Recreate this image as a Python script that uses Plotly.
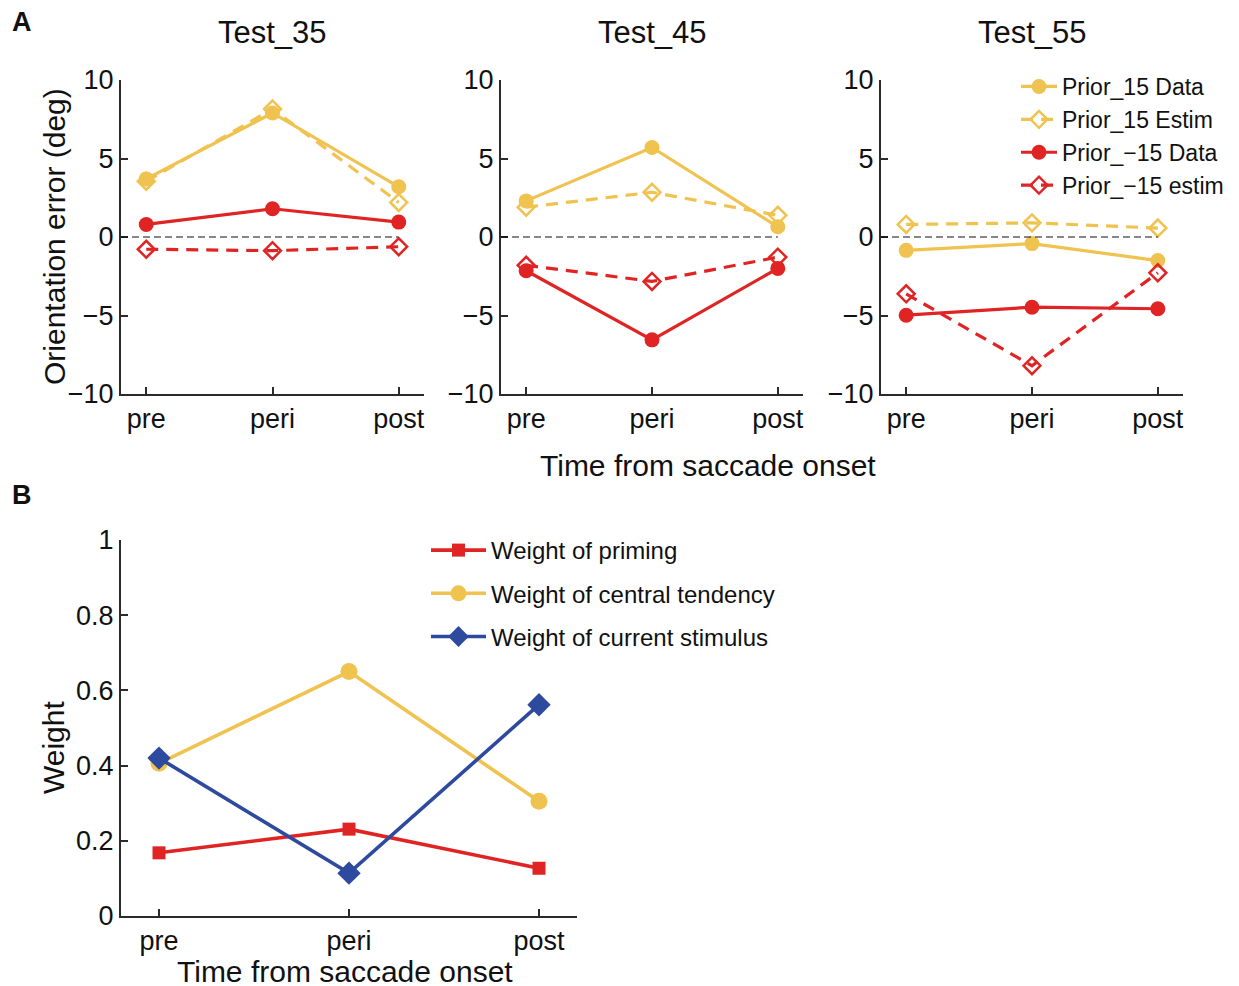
import plotly.graph_objects as go

# ---------------- data ----------------
categories = ["pre", "peri", "post"]
panel_titles = ["Test_35", "Test_45", "Test_55"]

p15_data = {
    "Test_35": [3.7, 7.9, 3.2],
    "Test_45": [2.3, 5.7, 0.65],
    "Test_55": [-0.85, -0.42, -1.5],
}
p15_estim = {
    "Test_35": [3.55, 8.15, 2.2],
    "Test_45": [1.9, 2.85, 1.38],
    "Test_55": [0.8, 0.9, 0.57],
}
m15_data = {
    "Test_35": [0.8, 1.8, 0.95],
    "Test_45": [-2.15, -6.55, -2.0],
    "Test_55": [-4.98, -4.47, -4.57],
}
m15_estim = {
    "Test_35": [-0.78, -0.87, -0.62],
    "Test_45": [-1.8, -2.83, -1.28],
    "Test_55": [-3.62, -8.2, -2.28],
}

weight_priming = [0.168, 0.231, 0.127]
weight_central = [0.406, 0.650, 0.305]
weight_current = [0.420, 0.114, 0.562]

a_yticks = [-10, -5, 0, 5, 10]
b_yticks = [0, 0.2, 0.4, 0.6, 0.8, 1]
b_yticktext = ["0", "0.2", "0.4", "0.6", "0.8", "1"]

# ---------------- styles ----------------
YEL = "#F0C24F"
RED = "#E02424"
BLUE = "#2D4A9E"
AX = "#2b2b2b"
TXT = "#111111"
FONT = "Liberation Sans, Arial, Helvetica, sans-serif"

W, H = 1239, 986
OFF = 8  # page body margin of the html page


def px_x(p):
    return (p - OFF) / W


def px_y(p):
    return 1 - (p - OFF) / H


a_xdom = [[121, 424], [501, 803], [881, 1183]]
a_ydom = [px_y(394), px_y(80)]
b_xdom = [px_x(121), px_x(577)]
b_ydom = [px_y(916), px_y(540)]

fig = go.Figure()

series = [
    ("Prior_15 Data", p15_data, YEL, "solid", "circle"),
    ("Prior_15 Estim", p15_estim, YEL, "12px,8px", "diamond-open"),
    ("Prior_\u221215 Data", m15_data, RED, "solid", "circle"),
    ("Prior_\u221215 estim", m15_estim, RED, "12px,8px", "diamond-open"),
]

for i, t in enumerate(panel_titles):
    xa = "x" if i == 0 else f"x{i+1}"
    ya = "y" if i == 0 else f"y{i+1}"
    fig.add_shape(type="line", xref=xa, yref=ya, x0=-0.2, x1=2, y0=0, y1=0,
                  line=dict(color="#111111", width=1.2, dash="7px,4px"))
    for name, d, col, dash, sym in series:
        is_open = "open" in sym
        fig.add_trace(go.Scatter(
            x=categories, y=d[t], xaxis=xa, yaxis=ya, name=name,
            mode="lines+markers",
            line=dict(color=col, width=3.2, dash=dash),
            marker=dict(symbol=sym, size=13 if is_open else 15, color=col,
                        line=dict(color=col, width=2.5 if is_open else 0)),
            showlegend=(i == 0), legend="legend",
        ))

b_series = [
    ("Weight of priming", weight_priming, RED, "square", 13),
    ("Weight of central tendency", weight_central, YEL, "circle", 17),
    ("Weight of current stimulus", weight_current, BLUE, "diamond", 18),
]
for k, (name, vals, col, sym, sz) in enumerate(b_series):
    fig.add_trace(go.Scatter(
        x=categories, y=vals, xaxis="x4", yaxis="y4", name=name,
        mode="lines+markers",
        line=dict(color=col, width=3.6),
        marker=dict(symbol=sym, size=sz, color=col),
        legend="legend2", legendgroup=f"g{k}",
    ))

axis_common = dict(
    showline=True, linecolor=AX, linewidth=2, mirror=False,
    ticks="inside", ticklen=7, tickwidth=2, tickcolor=AX,
    showgrid=False, zeroline=False, automargin=False,
    tickfont=dict(family=FONT, size=27, color=TXT),
)

layout = dict(
    width=W, height=H, margin=dict(l=0, r=0, t=0, b=0, pad=0, autoexpand=False),
    paper_bgcolor="white", plot_bgcolor="white",
    font=dict(family=FONT, color=TXT),
)

for i in range(3):
    xk = "xaxis" if i == 0 else f"xaxis{i+1}"
    yk = "yaxis" if i == 0 else f"yaxis{i+1}"
    xa = "x" if i == 0 else f"x{i+1}"
    ya = "y" if i == 0 else f"y{i+1}"
    layout[xk] = dict(axis_common, domain=[px_x(a_xdom[i][0]), px_x(a_xdom[i][1])],
                      anchor=ya, type="category", range=[-0.2, 2.2],
                      categoryorder="array", categoryarray=categories)
    layout[yk] = dict(axis_common, domain=a_ydom, anchor=xa, range=[-10, 10],
                      tickvals=a_yticks)

layout["xaxis4"] = dict(axis_common, domain=b_xdom, anchor="y4", type="category",
                        range=[-0.2, 2.2], categoryorder="array", categoryarray=categories)
layout["yaxis4"] = dict(axis_common, domain=b_ydom, anchor="x4", range=[0, 1],
                        tickvals=b_yticks, ticktext=b_yticktext)

layout["legend"] = dict(
    x=px_x(1016), y=px_y(65), xanchor="left", yanchor="top",
    bgcolor="rgba(0,0,0,0)", font=dict(family=FONT, size=23, color=TXT),
    itemwidth=36, tracegroupgap=0,
)
layout["legend2"] = dict(
    x=px_x(426), y=px_y(528), xanchor="left", yanchor="top",
    bgcolor="rgba(0,0,0,0)", font=dict(family=FONT, size=24, color=TXT),
    itemwidth=55, tracegroupgap=9, traceorder="grouped",
)

fig.update_layout(**layout)

ann = []
for i, t in enumerate(panel_titles):
    cx = (a_xdom[i][0] + a_xdom[i][1]) / 2
    ann.append(dict(text=t, x=px_x(cx), y=px_y(33), xref="paper", yref="paper",
                    showarrow=False, xanchor="center", yanchor="middle",
                    font=dict(family=FONT, size=31, color=TXT)))
ann += [
    dict(text="<b>A</b>", x=px_x(10), y=px_y(22), xref="paper", yref="paper",
         showarrow=False, xanchor="left", yanchor="middle",
         font=dict(family=FONT, size=27, color=TXT)),
    dict(text="<b>B</b>", x=px_x(10), y=px_y(495), xref="paper", yref="paper",
         showarrow=False, xanchor="left", yanchor="middle",
         font=dict(family=FONT, size=27, color=TXT)),
    dict(text="Orientation error (deg)", x=px_x(55), y=px_y(237), xref="paper",
         yref="paper", showarrow=False, textangle=-90, xanchor="center",
         yanchor="middle", font=dict(family=FONT, size=30, color=TXT)),
    dict(text="Time from saccade onset", x=px_x(708), y=px_y(465), xref="paper",
         yref="paper", showarrow=False, xanchor="center", yanchor="middle",
         font=dict(family=FONT, size=30, color=TXT)),
    dict(text="Weight", x=px_x(53), y=px_y(748), xref="paper", yref="paper",
         showarrow=False, textangle=-90, xanchor="center", yanchor="middle",
         font=dict(family=FONT, size=30, color=TXT)),
    dict(text="Time from saccade onset", x=px_x(345), y=px_y(971), xref="paper",
         yref="paper", showarrow=False, xanchor="center", yanchor="middle",
         font=dict(family=FONT, size=30, color=TXT)),
]
fig.update_layout(annotations=ann)

fig.write_html("out.html")
